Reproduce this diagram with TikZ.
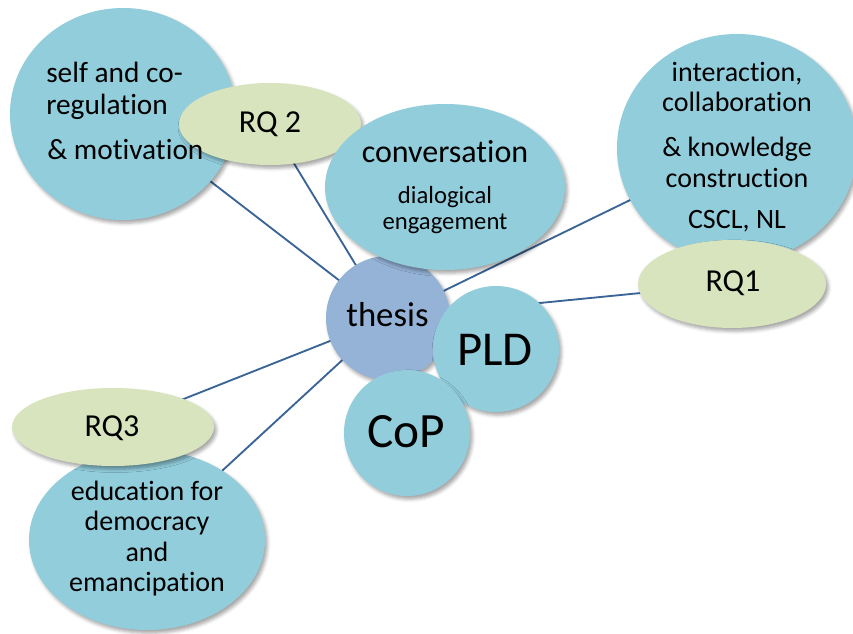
\documentclass[tikz,border=0pt]{standalone}
\usepackage{fontspec}
\setmainfont[Ligatures=NoCommon]{Carlito}
\usetikzlibrary{shapes.geometric,shadows.blur}
\pgfdeclarelayer{background}
\pgfsetlayers{background,main}

\definecolor{bubble}{HTML}{92CDDC}
\definecolor{core}{HTML}{95B3D7}
\definecolor{rq}{HTML}{D7E4BD}
\definecolor{link}{HTML}{3B6497}

\tikzset{
  blob/.style={ellipse, draw=none, inner sep=0pt, fill=#1,
    blur shadow={shadow xshift=1.8pt, shadow yshift=-2.4pt,
                 shadow blur radius=2.5pt, shadow opacity=35}},
  size/.style 2 args={minimum width=#1*0.75pt, minimum height=#2*0.75pt},
  txt/.style={inner sep=0pt, anchor=base, font=\fontsize{#1}{#1}\selectfont},
  ltxt/.style={inner sep=0pt, anchor=base west, font=\fontsize{#1}{#1}\selectfont},
  linkline/.style={draw=link, line width=1.4pt}
}

\begin{document}
\begin{tikzpicture}[x=0.75pt, y=-0.75pt]
\useasboundingbox (0,0) rectangle (853,634);

% bubbles, back to front
\node[blob=bubble, size={226}{212}] (self) at (123,114) {};
\node[blob=bubble, size={236}{180}] (edu) at (147,540) {};
\node[blob=bubble, size={240}{228}] (inter) at (737,148) {};
\node[blob=rq, size={182}{82}] (rq2) at (270,124) {};
\node[blob=core, size={124}{124}] (thesis) at (388,318) {};
\node[blob=bubble, size={240}{166}] (conv) at (445,187) {};
\node[blob=rq, size={188}{88}] (rq1) at (732,284) {};
\node[blob=rq, size={202}{78}] (rq3) at (113,427) {};
\node[blob=bubble, size={126}{126}] (pld) at (496,349) {};
\node[blob=bubble, size={126}{126}] (cop) at (407,433) {};

% connectors from the centre bubble
\begin{pgfonlayer}{background}
  \draw[linkline] (thesis.center) -- (self.center);
  \draw[linkline] (thesis.center) -- (rq2.center);
  \draw[linkline] (thesis.center) -- (inter.center);
  \draw[linkline] (thesis.center) -- (rq1.center);
  \draw[linkline] (thesis.center) -- (rq3.center);
  \draw[linkline] (thesis.center) -- (edu.center);
\end{pgfonlayer}

% labels
\node[ltxt=22pt] (self-a) at (46,83) {self and co-};
\node[ltxt=22pt] (self-b) at (46,115) {regulation};
\node[ltxt=22pt] (self-c) at (47,160) {\& motivation};

\node[txt=24pt] (rq2-t) at (270,133) {RQ 2};

\node[txt=24pt] (conv-a) at (445,163) {conversation};
\node[txt=18.5pt] (conv-b) at (445,204) {dialogical};
\node[txt=18.5pt] (conv-c) at (445,230) {engagement};

\node[txt=21pt] (inter-a) at (737,82) {interaction,};
\node[txt=21pt] (inter-b) at (737,112) {collaboration};
\node[txt=21pt] (inter-c) at (737,157) {\& knowledge};
\node[txt=21pt] (inter-d) at (737,188) {construction};
\node[txt=21pt] (inter-e) at (737,229) {CSCL, NL};

\node[txt=24pt] (rq1-t) at (733,292) {RQ1};

\node[txt=26pt] (thesis-t) at (387.5,327) {thesis};
\node[txt=36.5pt] (pld-t) at (495,366) {PLD};
\node[txt=37pt] (cop-t) at (406,447) {CoP};

\node[txt=24pt] (rq3-t) at (112,436) {RQ3};

\node[txt=21pt] (edu-a) at (147,500) {education for};
\node[txt=21pt] (edu-b) at (147,530) {democracy};
\node[txt=21pt] (edu-c) at (147,561) {and};
\node[txt=21pt] (edu-d) at (147,591) {emancipation};
\end{tikzpicture}
\end{document}
